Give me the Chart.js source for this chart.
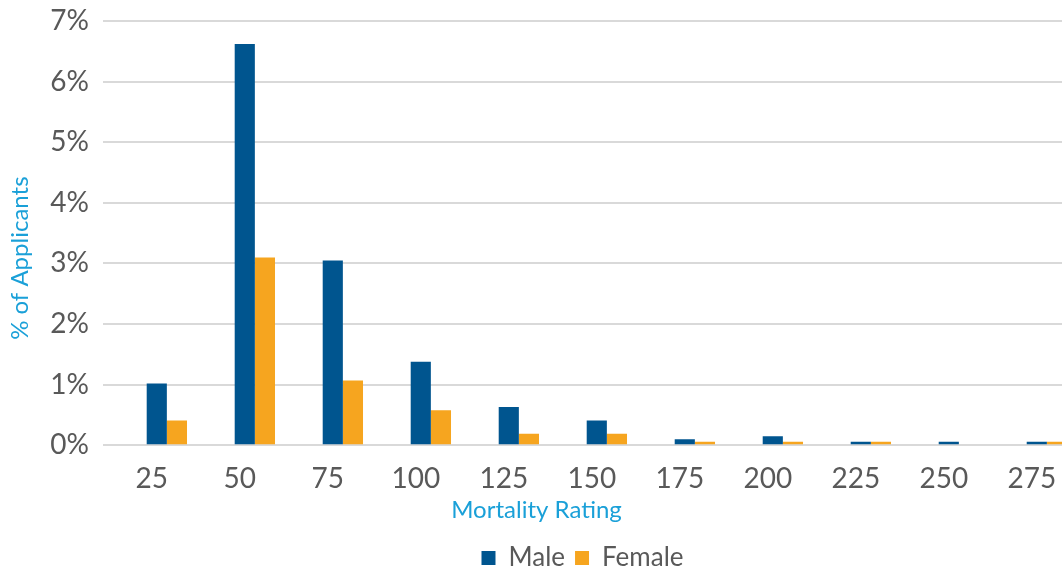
<!DOCTYPE html>
<html>
<head>
<meta charset="utf-8">
<script src="https://cdn.jsdelivr.net/npm/chart.js@4"></script>
<style>
html,body{margin:0;padding:0;background:#fff;overflow:hidden;}
#wrap{position:relative;width:1062px;height:571px;}
</style>
</head>
<body>
<div id="wrap"><canvas id="c" width="1062" height="571"></canvas></div>
<script>
const categories = [25, 50, 75, 100, 125, 150, 175, 200, 225, 250, 275];
const maleValues = [1.02, 6.62, 3.05, 1.38, 0.63, 0.41, 0.10, 0.15, 0.06, 0.06, 0.06];
const femaleValues = [0.41, 3.10, 1.07, 0.58, 0.19, 0.19, 0.06, 0.06, 0.06, 0, 0.06];
const yTicks = [0, 1, 2, 3, 4, 5, 6, 7];
const seriesNames = ['Male', 'Female'];

const toPoints = vals => categories.map((c, i) => ({x: c, y: vals[i]}));
const FONT = 'Lato, "Open Sans", sans-serif';

// shift an axis title by a fixed offset (Excel places it off-centre)
function shiftTitle(scale, dx, dy) {
  if (scale._titleShifted) return;
  const orig = scale.drawTitle;
  scale.drawTitle = function () {
    const ctx = this.ctx;
    ctx.save();
    ctx.translate(dx, dy);
    orig.apply(this, arguments);
    ctx.restore();
  };
  scale._titleShifted = true;
}

new Chart(document.getElementById('c'), {
  type: 'bar',
  data: {
    datasets: [
      {label: seriesNames[0], data: toPoints(maleValues), backgroundColor: '#00558F', categoryPercentage: 0.458, barPercentage: 1},
      {label: seriesNames[1], data: toPoints(femaleValues), backgroundColor: '#F6A51F', categoryPercentage: 0.458, barPercentage: 1}
    ]
  },
  options: {
    responsive: false,
    animation: false,
    layout: {autoPadding: false, padding: {top: 21, right: 0, left: 0, bottom: -10}},
    plugins: {
      tooltip: {enabled: false},
      legend: {
        position: 'bottom',
        fullSize: false,
        labels: {
          boxWidth: 14, boxHeight: 14, padding: 10,
          color: '#595959',
          font: {family: FONT, size: 26}
        }
      }
    },
    scales: {
      x: {
        type: 'linear',
        offset: false,
        min: 6.86,
        max: 279.3,
        grid: {display: false, drawTicks: false},
        border: {display: false},
        afterBuildTicks: s => { s.ticks = categories.map(v => ({value: v})); },
        afterFit: s => { s.paddingLeft = 0; s.paddingRight = 0; shiftTitle(s, -46, 0); },
        ticks: {
          autoSkip: false,
          maxRotation: 0,
          padding: 17,
          labelOffset: -15,
          color: '#595959',
          font: {family: FONT, size: 28},
          callback: v => String(v)
        },
        title: {
          display: true,
          text: 'Mortality Rating',
          color: '#1AA0D8',
          font: {family: FONT, size: 24},
          padding: {top: -17.3, bottom: 10.6}
        }
      },
      y: {
        min: 0,
        max: 7,
        afterBuildTicks: s => { s.ticks = yTicks.map(v => ({value: v})); },
        afterFit: s => { s.width = 103; s.paddingTop = 0; s.paddingBottom = 0; shiftTitle(s, 0, 25); },
        grid: {color: '#D9D9D9', lineWidth: 2, drawTicks: false},
        border: {display: false},
        ticks: {
          padding: 14,
          color: '#595959',
          font: {family: FONT, size: 28},
          callback: v => v + '%'
        },
        title: {
          display: true,
          text: '% of Applicants',
          color: '#1AA0D8',
          font: {family: FONT, size: 24},
          padding: {top: 6, bottom: 0}
        }
      }
    }
  }
});
</script>
</body>
</html>
